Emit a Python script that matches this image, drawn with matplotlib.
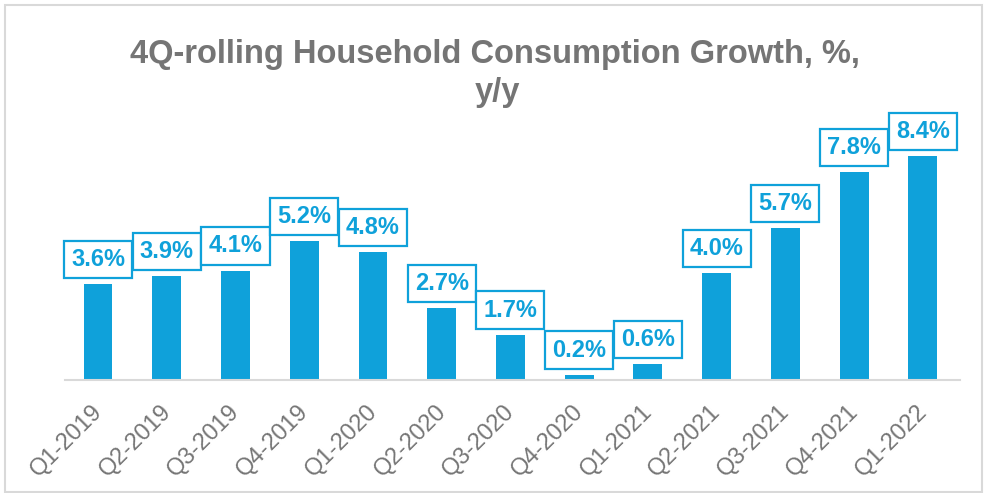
import matplotlib.pyplot as plt
import matplotlib.transforms as mtransforms
from matplotlib.patches import Rectangle

# data
quarters = ['Q1-2019', 'Q2-2019', 'Q3-2019', 'Q4-2019', 'Q1-2020', 'Q2-2020', 'Q3-2020',
            'Q4-2020', 'Q1-2021', 'Q2-2021', 'Q3-2021', 'Q4-2021', 'Q1-2022']
growth = [3.6, 3.9, 4.1, 5.2, 4.8, 2.7, 1.7, 0.2, 0.6, 4.0, 5.7, 7.8, 8.4]

blue = '#0FA1DA'
grey = '#757575'

fig = plt.figure(figsize=(9.87, 4.93), dpi=100)
ax = fig.add_axes([0.0659, 0.229, 0.9067, 0.568])

x = range(len(quarters))
ax.bar(x, growth, width=0.42, color=blue)
for i, v in zip(x, growth):
    ax.annotate(f'{v:.1f}%', (i, v), xytext=(0, 9.5), textcoords='offset points',
                ha='center', va='bottom', fontsize=17, fontweight='bold', color=blue,
                family='Liberation Sans',
                bbox=dict(boxstyle='square,pad=0.3', fc='white', ec=blue, lw=1.6))

ax.set_xlim(-0.48, 12.54)
ax.set_ylim(0, 10.49)
ax.set_yticks([])
ax.set_xticks(list(x))
ax.set_xticklabels(quarters, rotation=45, ha='right', va='top', rotation_mode='anchor',
                   fontsize=17, color=grey, family='Liberation Sans')
ax.tick_params(axis='x', length=0, pad=9)
# nudge the rotated labels a little left and down
shift = mtransforms.ScaledTranslation(-7 / 100, -8 / 100, fig.dpi_scale_trans)
for lab in ax.get_xticklabels():
    lab.set_transform(lab.get_transform() + shift)
for s in ['top', 'right', 'left']:
    ax.spines[s].set_visible(False)
ax.spines['bottom'].set_color('#D9D9D9')
ax.spines['bottom'].set_linewidth(1.5)

# title in two lines
fig.text(0.5015, 0.872, '4Q-rolling Household Consumption Growth, %,', ha='center', va='baseline',
         fontsize=23.5, fontweight='bold', color=grey, family='Liberation Sans')
fig.text(0.5035, 0.795, 'y/y', ha='center', va='baseline',
         fontsize=23.5, fontweight='bold', color=grey, family='Liberation Sans')

# outer chart border
fig.patches.append(Rectangle((5 / 987, 1 / 493), 977 / 987, 487 / 493, transform=fig.transFigure,
                             fill=False, ec='#D9D9D9', lw=1.5))

plt.savefig('out.png', dpi=100)
